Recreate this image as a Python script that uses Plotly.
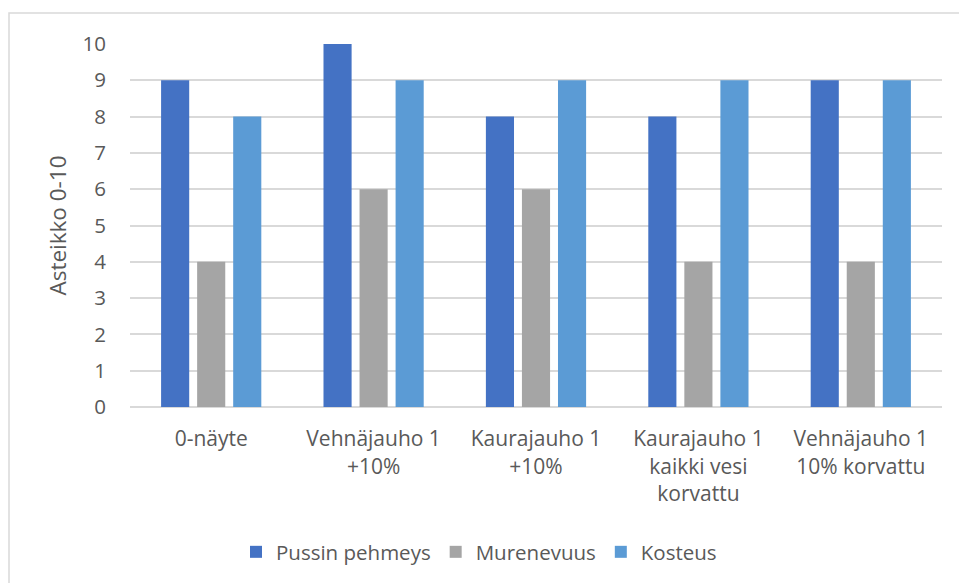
import plotly.graph_objects as go

categories = ["0-näyte", "Vehnäjauho 1<br>+10%", "Kaurajauho 1<br>+10%",
              "Kaurajauho 1<br>kaikki vesi<br>korvattu", "Vehnäjauho 1<br>10% korvattu"]
pussin_pehmeys = [9, 10, 8, 8, 9]
murenevuus = [4, 6, 6, 4, 4]
kosteus = [8, 9, 9, 9, 9]
y_ticks = list(range(0, 11))

W, H = 959, 583
ml, mr, mt, mb = 130, 17, 44, 175
pw = W - ml - mr
ph = H - mt - mb

font_family = "Open Sans, Noto Sans, sans-serif"
txt = "#595959"
fs = 21

fig = go.Figure()
for name, vals, col in [("Pussin pehmeys", pussin_pehmeys, "#4472C4"),
                        ("Murenevuus", murenevuus, "#A5A5A5"),
                        ("Kosteus", kosteus, "#5B9BD5")]:
    fig.add_trace(go.Bar(x=categories, y=vals, name=name, marker_color=col,
                         marker_line_width=0))

fig.update_layout(
    width=W, height=H,
    margin=dict(l=ml, r=mr, t=mt, b=mb),
    paper_bgcolor="white", plot_bgcolor="white",
    barmode="group", bargap=0.334, bargroupgap=0.22,
    font=dict(family=font_family, size=fs, color=txt),
    legend=dict(orientation="h", x=(479 - ml) / pw, xanchor="center",
                y=-(552 - (mt + ph)) / ph, yanchor="middle",
                font=dict(size=20.5, color=txt), itemwidth=30, traceorder="normal"),
    showlegend=True,
    shapes=[dict(type="rect", xref="paper", yref="paper",
                 x0=(9 - ml) / pw, x1=(W + 10 - ml) / pw,
                 y0=-(H + 10 - (mt + ph)) / ph, y1=(mt + ph - 13) / ph,
                 line=dict(color="#D9D9D9", width=1.5), layer="below")],
)
fig.update_yaxes(range=[0, 10], tickvals=y_ticks, showgrid=True, gridcolor="#D9D9D9",
                 gridwidth=1.5, zeroline=True, zerolinecolor="#D9D9D9", zerolinewidth=1.5,
                 ticks="outside", ticklen=19, tickcolor="rgba(0,0,0,0)", showline=False,
                 title=dict(text="Asteikko 0-10", standoff=9, font=dict(size=22.5, color=txt)),
                 tickfont=dict(size=20.5, color=txt))
fig.update_xaxes(ticks="outside", ticklen=13, tickcolor="rgba(0,0,0,0)", showline=False,
                 tickfont=dict(size=fs, color=txt), tickangle=0)

fig.write_html("out.html", config={"displayModeBar": False},
               post_script="document.body.style.margin='0';")
